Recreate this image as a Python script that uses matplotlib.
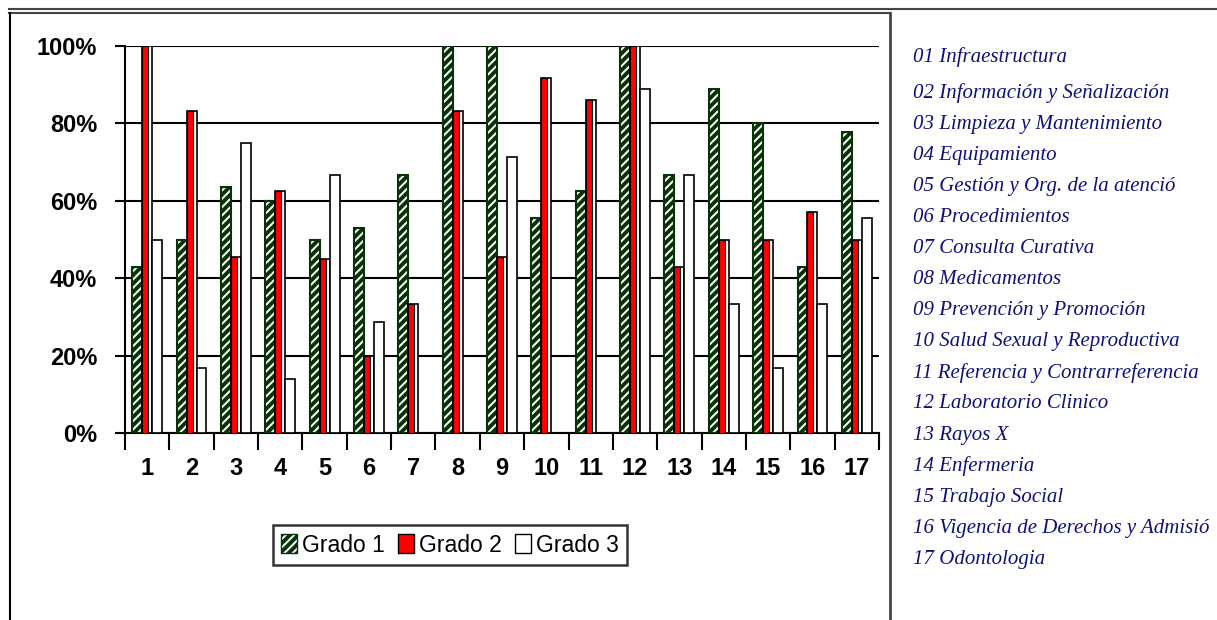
import numpy as np
import matplotlib.pyplot as plt
import matplotlib.patches as patches
import matplotlib.lines as lines

# Porcentaje por servicio y grado
servicios = [str(i) for i in range(1, 18)]
grado1 = [43, 50, 63.6, 60, 50, 53, 66.7, 100, 100, 55.6, 62.5, 100, 66.7, 88.9, 80, 43, 77.8]
grado2 = [100, 83.3, 45.5, 62.5, 45, 20, 33.3, 83.3, 45.5, 91.7, 86, 100, 43, 50, 50, 57.1, 50]
grado3 = [50, 16.7, 75, 14, 66.7, 28.6, 0, 0, 71.4, 0, 0, 88.9, 66.7, 33.3, 16.7, 33.3, 55.6]
series = ['Grado 1', 'Grado 2', 'Grado 3']

nombres = [
    '01 Infraestructura',
    '02 Información y Señalización',
    '03 Limpieza y Mantenimiento',
    '04 Equipamiento',
    '05 Gestión y Org. de la atenció',
    '06 Procedimientos',
    '07 Consulta Curativa',
    '08 Medicamentos',
    '09 Prevención y Promoción',
    '10 Salud Sexual y Reproductiva',
    '11 Referencia y Contrarreferencia',
    '12 Laboratorio Clinico',
    '13 Rayos X',
    '14 Enfermeria',
    '15 Trabajo Social',
    '16 Vigencia de Derechos y Admisió',
    '17 Odontologia',
]

plt.rcParams['hatch.linewidth'] = 2.8
verde = '#073307'

W, H = 1217, 620
fig = plt.figure(figsize=(W / 100, H / 100), dpi=100)
ax = fig.add_axes([125 / W, 1 - 433 / H, (879 - 125) / W, (433 - 46) / H])

x = np.arange(1, 18)
w = 0.225

ax.bar(x - w, grado1, width=w, color='white', edgecolor=verde, hatch='////', lw=1.5, zorder=3)
ax.bar(x, grado2, width=w, color='white', edgecolor='black', lw=1.2, zorder=3)
ax.bar(x - w * 0.2, grado2, width=w * 0.6, color='red', edgecolor='black', lw=0.8, zorder=3)
ax.bar(x + w, grado3, width=w, color='white', edgecolor='black', lw=1.2, zorder=3)

ax.set_xlim(0.5, 17.5)
ax.set_ylim(0, 100)
ax.set_yticks([0, 20, 40, 60, 80, 100])
ax.set_yticklabels([f'{v}%' for v in range(0, 101, 20)],
                   fontsize=17, fontweight='bold', family='Liberation Sans')
ax.set_xticks(x)
ax.set_xticklabels(servicios, fontsize=17, fontweight='bold', family='Liberation Sans')
ax.set_xticks(np.arange(0.5, 18, 1), minor=True)
ax.tick_params(axis='x', which='major', length=0, pad=17)
ax.tick_params(axis='x', which='minor', length=12, width=1.5, direction='out')
ax.tick_params(axis='y', length=7, width=1.5, pad=13)
ax.grid(axis='y', color='black', lw=1.5, zorder=1)
for s in ['top', 'right']:
    ax.spines[s].set_visible(False)
for s in ['left', 'bottom']:
    ax.spines[s].set_linewidth(1.5)

handles = [
    patches.Patch(facecolor='white', edgecolor=verde, hatch='////', label=series[0]),
    patches.Patch(facecolor='red', edgecolor='black', label=series[1]),
    patches.Patch(facecolor='white', edgecolor='black', label=series[2]),
]
leg = fig.legend(handles=handles, loc='center', bbox_to_anchor=(450 / W, 1 - 545 / H),
                 ncol=3, frameon=True, fancybox=False, handlelength=0.7,
                 handleheight=0.9, handletextpad=0.2, columnspacing=0.6,
                 borderpad=0.35, prop={'family': 'Liberation Sans', 'size': 16.5})
leg.get_frame().set_edgecolor('black')
leg.get_frame().set_linewidth(1.8)

# Marco del grafico
fig.add_artist(lines.Line2D([9 / W, 1], [1 - 9 / H] * 2, color='#444444', lw=1.5))
fig.add_artist(lines.Line2D([9 / W, 890 / W], [1 - 13 / H] * 2, color='#444444', lw=1.5))
fig.add_artist(lines.Line2D([10 / W] * 2, [1 - 13 / H, 0], color='black', lw=1.5))
fig.add_artist(lines.Line2D([890 / W] * 2, [1 - 13 / H, 0], color='#444444', lw=2))

# Lista de servicios
ys = [57] + [93 + 31.1 * i for i in range(16)]
for nombre, yy in zip(nombres, ys):
    fig.text(913 / W, 1 - yy / H, nombre, fontsize=15, style='italic',
             family='Liberation Serif', color='#10107a', va='center', ha='left')

fig.savefig('out.png', dpi=100)
